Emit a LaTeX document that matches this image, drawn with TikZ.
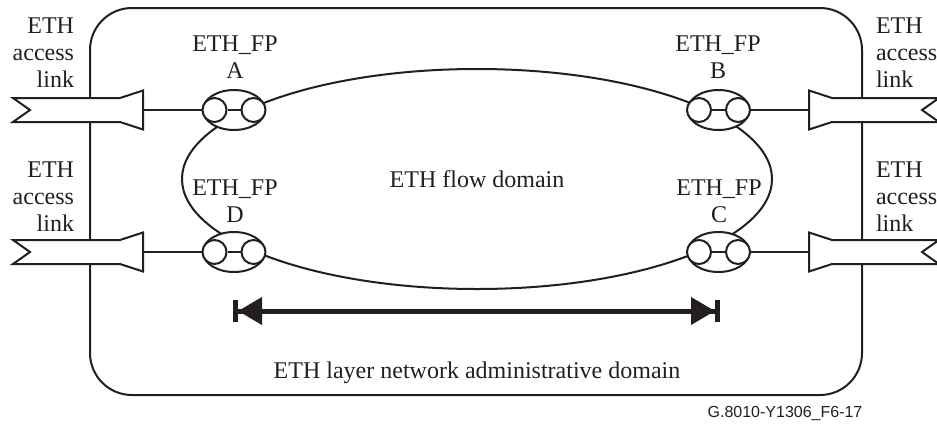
\documentclass[tikz,border=0pt]{standalone}
\usepackage{fontspec}
\setmainfont{Liberation Serif}
\setsansfont{Liberation Sans}
\usetikzlibrary{shapes.geometric,arrows.meta}
\definecolor{inkgray}{RGB}{35,31,32}
\tikzset{every picture/.style={line width=1.5pt}}
\tikzset{
  fpring/.style={draw=inkgray,ellipse,fill=white,minimum width=46.5pt,minimum height=30pt,inner sep=0pt},
  fpport/.style={draw=inkgray,circle,fill=white,minimum size=18pt,inner sep=0pt},
  lbltext/.style={font=\fontsize{18}{20.25}\selectfont,text=inkgray,inner sep=0pt},
}

\begin{document}
\begin{tikzpicture}[x=0.75pt,y=0.75pt,yscale=-1,xscale=1]
\useasboundingbox (0,0) rectangle (937,425);

%Shape: Rounded Rectangle (administrative domain)
\draw [draw=inkgray, rounded corners=31.5pt] (90,8) rectangle (862,395);

%Shape: Ellipse (flow domain)
\node [draw=inkgray, ellipse, minimum width=442.5pt, minimum height=165pt, lbltext] (flow) at (477,179) {ETH flow domain};

%Shape: Polygon (access link, top left)
\draw [draw=inkgray, fill=white] (13,98) -- (120,98) -- (143,90.5) -- (143,129.5) -- (120,122) -- (13,122) -- (30,110) -- cycle ;
%Shape: Polygon (access link, bottom left)
\draw [draw=inkgray, fill=white] (13,240) -- (120,240) -- (143,232.5) -- (143,271.5) -- (120,264) -- (13,264) -- (30,252) -- cycle ;
%Shape: Polygon (access link, top right)
\draw [draw=inkgray, fill=white] (939,98) -- (832,98) -- (809,90.5) -- (809,129.5) -- (832,122) -- (939,122) -- (922,110) -- cycle ;
%Shape: Polygon (access link, bottom right)
\draw [draw=inkgray, fill=white] (939,240) -- (832,240) -- (809,232.5) -- (809,271.5) -- (832,264) -- (939,264) -- (922,252) -- cycle ;

%Flow points
\node [fpring] (fpA) at (234,110) {};
\node [fpport] (fpA1) at (214.5,110) {};
\node [fpport] (fpA2) at (253.5,110) {};
\draw [inkgray] (fpA1) -- (fpA2);

\node [fpring] (fpB) at (718.5,110) {};
\node [fpport] (fpB1) at (699,110) {};
\node [fpport] (fpB2) at (738,110) {};
\draw [inkgray] (fpB1) -- (fpB2);

\node [fpring] (fpC) at (718.5,252) {};
\node [fpport] (fpC1) at (699,252) {};
\node [fpport] (fpC2) at (738,252) {};
\draw [inkgray] (fpC1) -- (fpC2);

\node [fpring] (fpD) at (234,252) {};
\node [fpport] (fpD1) at (214.5,252) {};
\node [fpport] (fpD2) at (253.5,252) {};
\draw [inkgray] (fpD1) -- (fpD2);

%Straight Lines (access link to flow point)
\coordinate (lkA) at (143,110);
\coordinate (lkB) at (809,110);
\coordinate (lkC) at (809,252);
\coordinate (lkD) at (143,252);
\draw [inkgray] (lkA) -- (fpA);
\draw [inkgray] (fpB) -- (lkB);
\draw [inkgray] (fpC) -- (lkC);
\draw [inkgray] (lkD) -- (fpD);

%Straight Lines (span arrow)
\coordinate (spanL) at (233,311);
\coordinate (spanR) at (720,311);
\draw [inkgray, line width=3.75pt, {Bar[width=17pt]Triangle[length=18pt,width=20pt]}-{Triangle[length=18pt,width=20pt]Bar[width=17pt]}] (spanL) -- (spanR);

% Text Node
\node [lbltext, align=right, anchor=east] (lnkA) at (75,53) {ETH\\access\\link};
% Text Node
\node [lbltext, align=right, anchor=east] (lnkD) at (75,197) {ETH\\access\\link};
% Text Node
\node [lbltext, align=left, anchor=west] (lnkB) at (875,53) {ETH\\access\\link};
% Text Node
\node [lbltext, align=left, anchor=west] (lnkC) at (875,197) {ETH\\access\\link};
% Text Node
\node [lbltext, align=center] (labA) at (235,57) {ETH\_FP\\A};
% Text Node
\node [lbltext, align=center] (labB) at (718,57) {ETH\_FP\\B};
% Text Node
\node [lbltext, align=center] (labC) at (719,201) {ETH\_FP\\C};
% Text Node
\node [lbltext, align=center] (labD) at (235,201) {ETH\_FP\\D};
% Text Node
\node [lbltext] (admin) at (477,373) {ETH layer network administrative domain};
% Text Node
\node [font=\sffamily\fontsize{12}{14}\selectfont, text=inkgray] (figid) at (785,413) {G.8010-Y1306\_F6-17};

\end{tikzpicture}
\end{document}
